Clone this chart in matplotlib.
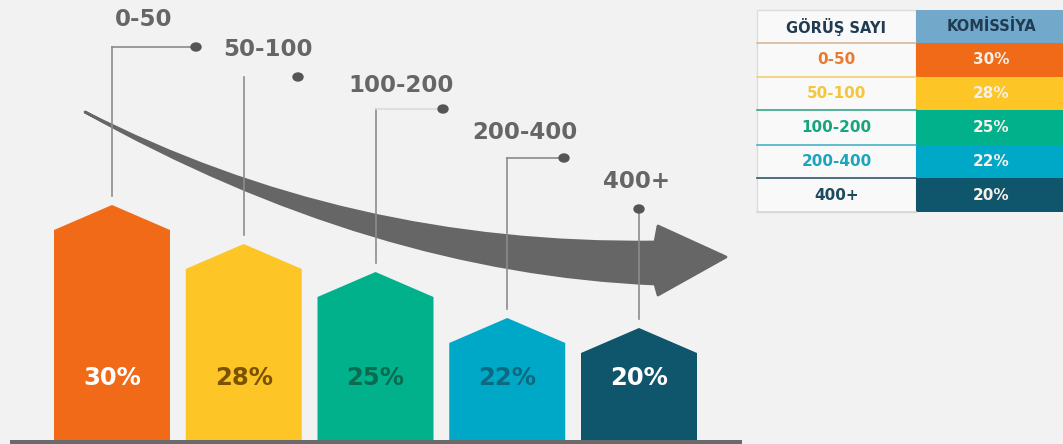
import matplotlib.pyplot as plt
from matplotlib.patches import Polygon, Rectangle, PathPatch, Ellipse
from matplotlib.path import Path

plt.rcParams['font.family'] = ['DejaVu Sans']

# data
ranges = ["0-50", "50-100", "100-200", "200-400", "400+"]
commission = [30, 28, 25, 22, 20]
bar_heights = [210, 171, 143, 97, 87]   # shoulder height above the base line (px)
header = ["GÖRÜŞ SAYI", "KOMİSSİYA"]

bar_colors = ["#f06a17", "#fdc525", "#00b18c", "#00a8c7", "#0f556b"]
inner_text = ["#ffffff", "#7a5200", "#0b6b50", "#0b6a80", "#ffffff"]
table_text = ["#ea7a30", "#f4c73a", "#17a47f", "#1ba5be", "#1d4a5e"]
row_lines = ["#f1cf72", "#37a68a", "#49b1c8", "#2c5567", "#d6d6d6"]

BG = "#f2f2f2"
GRAY = "#666666"


def main():
    fig = plt.figure(figsize=(10.63, 4.44), dpi=100, facecolor=BG)
    ax = fig.add_axes([0, 0, 1, 1])
    ax.set_xlim(0, 1063)
    ax.set_ylim(444, 0)
    ax.axis("off")
    ax.set_facecolor(BG)

    base = 440
    width = 116
    roof = 25

    # curved arrow
    verts = [(85, 112), (348, 246), (655, 242),
             (658, 226), (726, 257), (658, 295), (655, 284),
             (372, 272), (85, 112), (85, 112)]
    codes = [Path.MOVETO, Path.CURVE3, Path.CURVE3,
             Path.LINETO, Path.LINETO, Path.LINETO, Path.LINETO,
             Path.CURVE3, Path.CURVE3, Path.CLOSEPOLY]
    ax.add_patch(PathPatch(Path(verts, codes), facecolor=GRAY, edgecolor=GRAY,
                           lw=2, joinstyle="round", zorder=2))

    # leader layout
    label_xy = [(115, 20), (223, 50), (348, 85), (472, 132), (603, 181)]
    dot_xy = [(196, 47), (298, 77), (443, 109), (564, 158), (639, 209)]
    link_col = ["#8a8a8a", None, "#dadada", "#8a8a8a", None]

    for i in range(len(ranges)):
        left = 54 + i * 131.75
        c = left + width / 2
        top = base - bar_heights[i]
        pts = [(left, base), (left, top), (c, top - roof), (left + width, top),
               (left + width, base)]
        ax.add_patch(Polygon(pts, closed=True, facecolor=bar_colors[i],
                             edgecolor="none", zorder=3))
        ax.text(c, 378, f"{commission[i]}%", color=inner_text[i], fontsize=17.5,
                fontweight="bold", ha="center", va="center", zorder=4)

        dx, dy = dot_xy[i]
        ax.plot([c, c], [dy, top - roof - 9], color="#8c8c8c", lw=1.2, zorder=3)
        if link_col[i]:
            ax.plot([c, dx], [dy, dy], color=link_col[i], lw=1.2, zorder=3)
        ax.add_patch(Ellipse((dx, dy), 10, 8, color="#555555", zorder=4))
        lx, ly = label_xy[i]
        ax.text(lx, ly, ranges[i], color=GRAY, fontsize=16.5, fontweight="bold",
                ha="left", va="center", zorder=4)

    ax.add_patch(Rectangle((10, base), 732, 4, facecolor="#6a6a6a",
                           edgecolor="none", zorder=4))

    # table
    tx0, tx1, tx2 = 757, 916, 1063
    row_y = [10, 43, 77, 110, 145, 178, 212]
    ax.add_patch(Rectangle((tx0, row_y[0]), tx1 - tx0, row_y[-1] - row_y[0],
                           facecolor="#f9f9f9", edgecolor="#dddddd", lw=1, zorder=1))
    ax.add_patch(Rectangle((tx1, row_y[0]), tx2 - tx1, row_y[1] - row_y[0],
                           facecolor="#72a8ca", edgecolor="none", zorder=2))
    ax.text((tx0 + tx1) / 2, (row_y[0] + row_y[1]) / 2, header[0], color="#1f3c53",
            fontsize=10.5, fontweight="bold", ha="center", va="center")
    ax.text((tx1 + tx2) / 2 + 2, (row_y[0] + row_y[1]) / 2, header[1], color="#1f3c53",
            fontsize=10.5, fontweight="bold", ha="center", va="center")
    ax.plot([tx0, tx1], [row_y[1], row_y[1]], color="#d8b898", lw=1.2, zorder=2)
    for i in range(len(ranges)):
        y0, y1 = row_y[i + 1], row_y[i + 2]
        ym = (y0 + y1) / 2
        ax.add_patch(Rectangle((tx1, y0), tx2 - tx1, y1 - y0,
                               facecolor=bar_colors[i], edgecolor="none", zorder=2))
        ax.plot([tx0, tx1], [y1, y1], color=row_lines[i], lw=1.2, zorder=2)
        ax.text((tx0 + tx1) / 2, ym, ranges[i], color=table_text[i], fontsize=11,
                fontweight="bold", ha="center", va="center", zorder=3)
        ax.text((tx1 + tx2) / 2 + 2, ym, f"{commission[i]}%", color="#f7efe8",
                fontsize=11, fontweight="bold", ha="center", va="center", zorder=3)

    fig.savefig("out.png", dpi=100, facecolor=BG)


if __name__ == "__main__":
    main()
